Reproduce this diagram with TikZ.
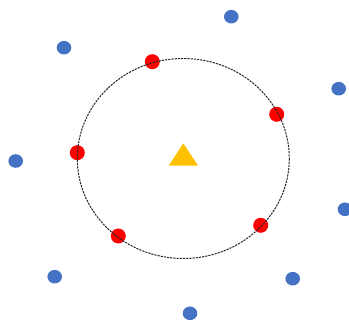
\documentclass[tikz,border=0pt]{standalone}
\usepackage{tikz}
\usepackage{xcolor}
\usetikzlibrary{shapes.geometric}

\definecolor{ptblue}{HTML}{4472C4}
\definecolor{ptred}{HTML}{FF0000}
\definecolor{ptgold}{HTML}{FFC000}

\begin{document}
\begin{tikzpicture}[
  x=1pt, y=-1pt,
  far/.style={ellipse, fill=ptblue, inner sep=0pt, minimum width=14.6pt, minimum height=13.6pt},
  near/.style={circle, fill=ptred, inner sep=0pt, minimum size=15pt},
  ring/.style={draw=black!85, line width=1pt, dash pattern=on 2.2pt off 1pt}
]
\clip (0,0) rectangle (349,320);

% ---------- Neighbours on the ring (red) ----------
\node[near] (n1) at (152.3,61.7) {};
\node[near] (n2) at (276.7,114.3) {};
\node[near] (n3) at (77.3,152.7) {};
\node[near] (n4) at (118.3,236) {};
\node[near] (n5) at (260.7,225.3) {};

% ---------- Query point and radius (drawn over the red points) ----------
\coordinate (q) at (183.3,158.5);
\draw[ring] (q) ellipse [x radius=106, y radius=100];

% ---------- Other points (blue) ----------
\node[far] (f1) at (231.3,16.7) {};
\node[far] (f2) at (64,47.7) {};
\node[far] (f3) at (338.7,88.7) {};
\node[far] (f4) at (15.7,161) {};
\node[far] (f5) at (345,209.3) {};
\node[far] (f6) at (54.7,276.7) {};
\node[far] (f7) at (292.7,278.7) {};
\node[far] (f8) at (190,313.3) {};

% ---------- Query marker (yellow triangle) ----------
\fill[ptgold] (183.3,143.3) -- (168.7,165.7) -- (198,165.7) -- cycle;

\end{tikzpicture}
\end{document}
